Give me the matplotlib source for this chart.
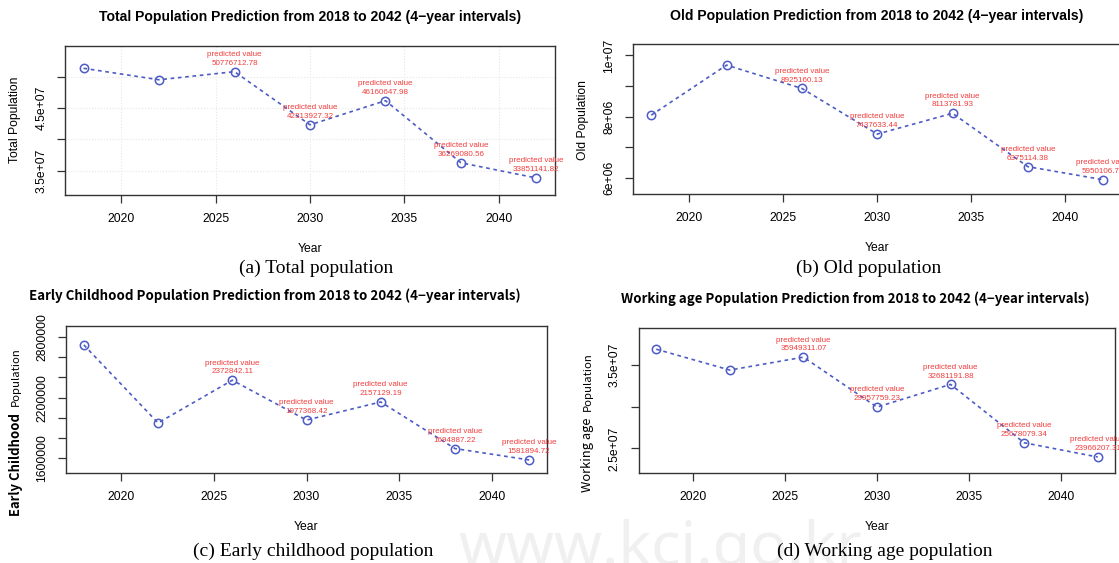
import matplotlib
matplotlib.use("Agg")
import matplotlib.pyplot as plt
import numpy as np

## Data
years = [2018, 2022, 2026, 2030, 2034, 2038, 2042]

total_pop = [51320000, 49490000, 50776712.78, 42313927.32, 46160647.98, 36269080.56, 33851141.82]
old_pop = [8055000, 9686000, 8925160.13, 7437633.44, 8113781.93, 6375114.38, 5950106.72]
child_pop = [2723000, 1949000, 2372842.11, 1977368.42, 2157129.19, 1694887.22, 1581894.72]
work_pop = [36900000, 34400000, 35949311.07, 29957759.23, 32681191.88, 25678079.34, 23966207.31]

# first two years are observed, the rest get a "predicted value" label
n_obs = 2

total_ticks = [3.5e7, 4.0e7, 4.5e7, 5.0e7]
total_labels = ["3.5e+07", "", "4.5e+07", ""]
old_ticks = [6e6, 7e6, 8e6, 9e6, 1e7]
old_labels = ["6e+06", "", "8e+06", "", "1e+07"]
child_ticks = [1600000, 1800000, 2000000, 2200000, 2400000, 2600000, 2800000]
child_labels = ["1600000", "", "", "2200000", "", "", "2800000"]
work_ticks = [2.5e7, 3.0e7, 3.5e7]
work_labels = ["2.5e+07", "", "3.5e+07"]

x_ticks = [2020, 2025, 2030, 2035, 2040]

W, H = 1119, 563
fig = plt.figure(figsize=(W / 100, H / 100), dpi=100)

def box(l, r, t, b):
    return [l / W, 1 - b / H, (r - l) / W, (b - t) / H]

line_col = "#4d5cc4"
txt_col = "#f23c3c"
sans = "Liberation Sans"
kr = "Noto Sans CJK KR"

def panel(rect, vals, ticks, labels, grid=False):
    ax = fig.add_axes(rect)
    ax.plot(years, vals, linestyle=(0, (2.2, 2.2)), color=line_col, lw=1.2,
            marker="o", ms=6, mfc="none", mec=line_col, mew=1.1, zorder=3)
    for x, v in list(zip(years, vals))[n_obs:]:
        ax.annotate("predicted value\n%.2f" % v, (x, v), xytext=(0, 3.5),
                    textcoords="offset points", ha="center", va="bottom",
                    fontsize=5.8, color=txt_col, family=sans, linespacing=1.35,
                    annotation_clip=False, zorder=4)
    ax.set_xlim(2017.04, 2042.96)
    ax.set_ylim(min(vals) * 0.92, max(vals) * 1.07)
    ax.set_xticks(x_ticks)
    ax.set_xticklabels([str(t) for t in x_ticks], family=sans, fontsize=8.7)
    ax.set_yticks(ticks)
    ax.set_yticklabels(labels, family=sans, fontsize=8.7, rotation=90, va="center")
    ax.tick_params(direction="out", length=6, width=0.9, color="#333333", pad=7)
    for s in ax.spines.values():
        s.set_linewidth(1.0)
        s.set_color("#333333")
    if grid:
        ax.grid(True, linestyle=":", color="#e6e6e6", lw=0.8)
        ax.set_axisbelow(True)
    ax.set_xlabel("Year", family=sans, fontsize=8.7, labelpad=13)
    return ax

# (a) total population
ax_a = panel(box(65.4, 554.6, 45.7, 195), total_pop, total_ticks, total_labels, grid=True)
# (b) old population
ax_b = panel(box(633.2, 1121.2, 44.3, 194.3), old_pop, old_ticks, old_labels)
# (c) early childhood
ax_c = panel(box(66, 547, 325.7, 472.7), child_pop, child_ticks, child_labels)
# (d) working age
ax_d = panel(box(638.6, 1115.4, 327.7, 473), work_pop, work_ticks, work_labels)

def ftext(x, y, s, **kw):
    fig.text(x / W, 1 - y / H, s, **kw)

# titles
ftext(310, 17, "Total Population Prediction from 2018 to 2042 (4\u2212year intervals)",
      ha="center", va="center", fontsize=10.1, fontweight="bold", family=sans)
ftext(877, 16, "Old Population Prediction from 2018 to 2042 (4\u2212year intervals)",
      ha="center", va="center", fontsize=10.1, fontweight="bold", family=sans)
ftext(275, 296, "Early Childhood Population Prediction from 2018 to 2042 (4\u2212year intervals)",
      ha="center", va="center", fontsize=9.6, fontweight="bold", family=kr)
ftext(855, 299, "Working age Population Prediction from 2018 to 2042 (4\u2212year intervals)",
      ha="center", va="center", fontsize=9.6, fontweight="bold", family=kr)

# y axis titles
ftext(15, 120, "Total Population", rotation=90, ha="center", va="center",
      fontsize=8.7, family=sans)
ftext(583, 120, "Old Population", rotation=90, ha="center", va="center",
      fontsize=8.7, family=sans)
ftext(16, 465, "Early Childhood", rotation=90, ha="center", va="center",
      fontsize=9.4, fontweight="bold", family=kr)
ftext(16, 377, "Population", rotation=90, ha="center", va="center",
      fontsize=8.2, family=kr)
ftext(588, 455, "Working age", rotation=90, ha="center", va="center",
      fontsize=9.3, family=kr)
ftext(588, 382, "Population", rotation=90, ha="center", va="center",
      fontsize=8.2, family=kr)

# watermark
ftext(660, 550, "www.kci.go.kr", ha="center", va="center", fontsize=44,
      color="#f0f0f0", family="Noto Sans", zorder=-5)

# captions
cap = dict(ha="center", va="center", fontsize=14, family="Liberation Serif")
ftext(316, 268, "(a) Total population", **cap)
ftext(869, 268, "(b) Old population", **cap)
ftext(313, 551, "(c) Early childhood population", **cap)
ftext(885, 551, "(d) Working age population", **cap)

fig.savefig("out.png", dpi=100)
